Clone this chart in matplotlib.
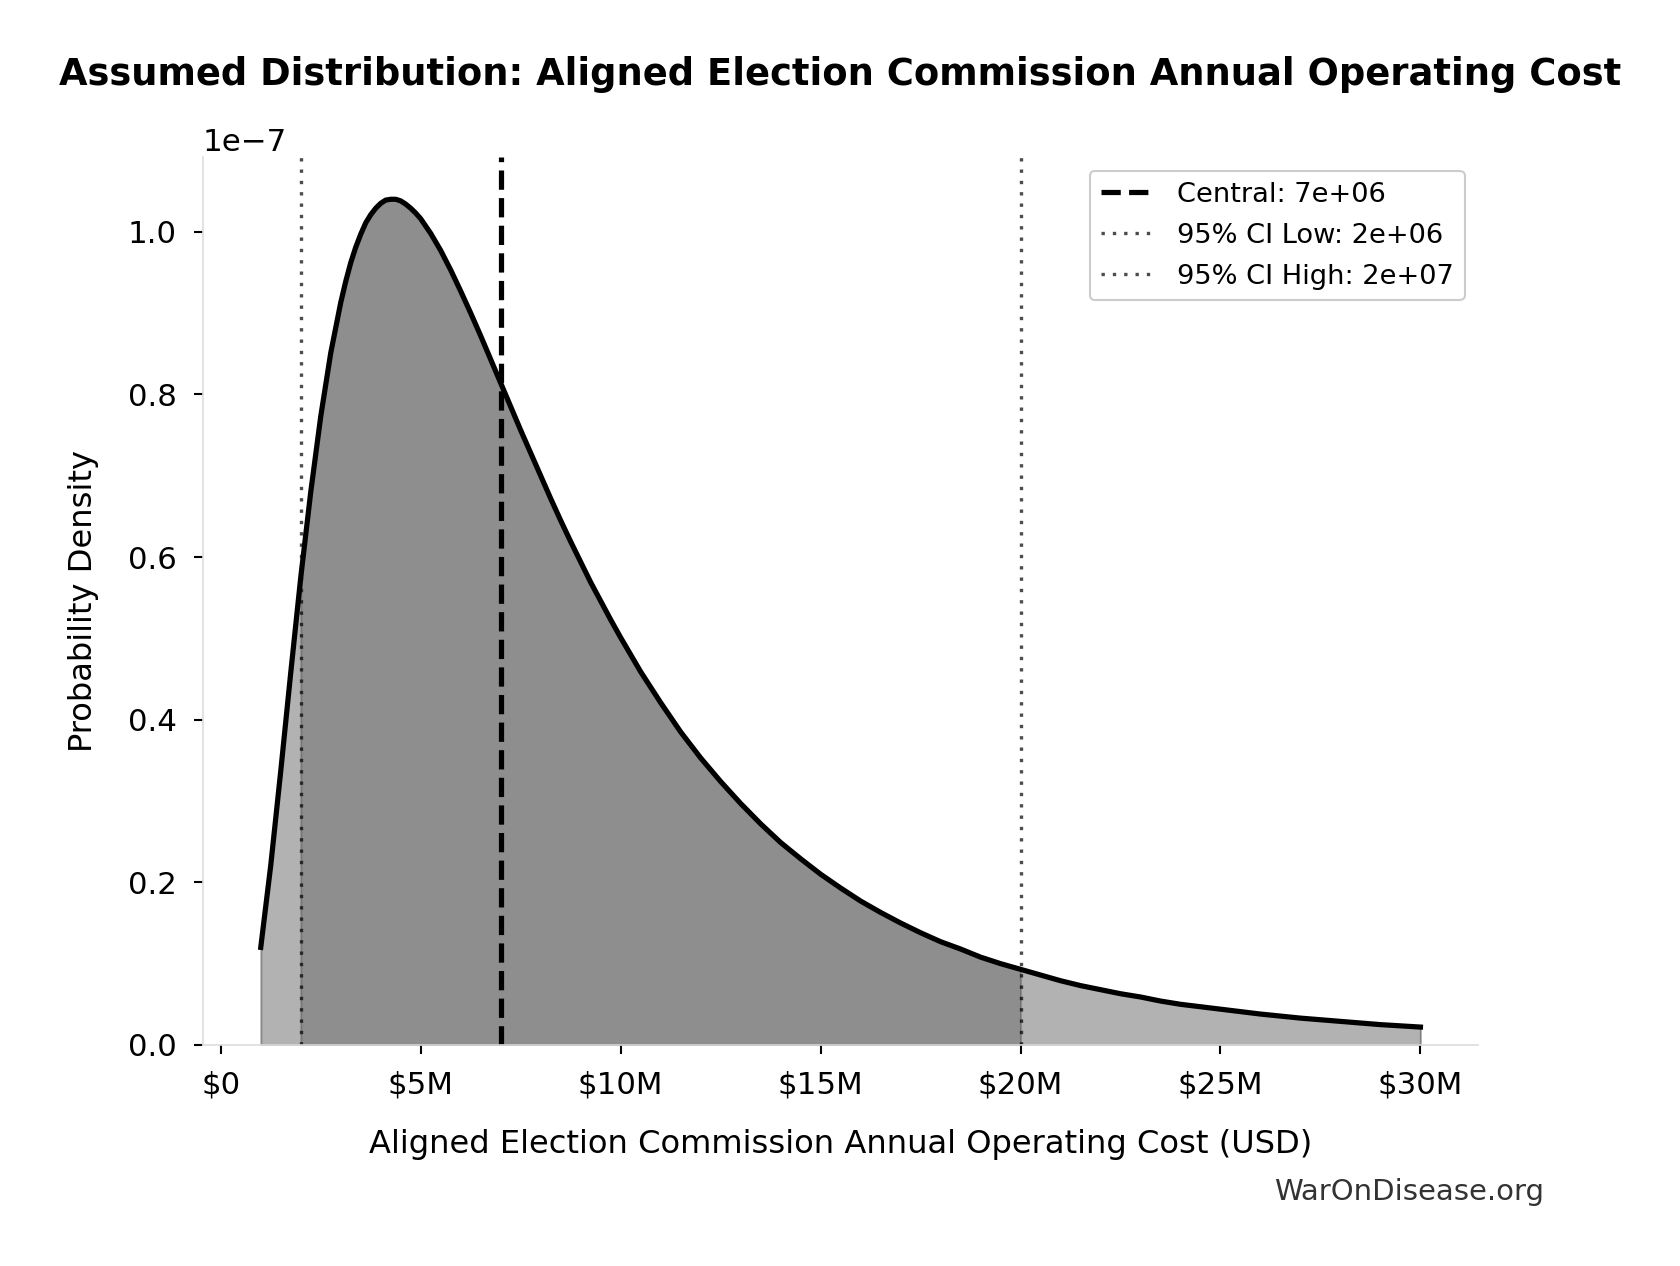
import numpy as np
import matplotlib
matplotlib.use("Agg")
import matplotlib.pyplot as plt
from matplotlib.ticker import FuncFormatter

# density curve (x in $M, y in units of 1e-7)
cost_m = [1.0, 1.25, 1.5, 1.75, 2.0, 2.25, 2.5, 2.75, 3.0, 3.125, 3.25, 3.375,
          3.5, 3.625, 3.75, 3.875, 4.0, 4.125, 4.25, 4.375, 4.5, 4.625, 4.75,
          4.875, 5.0, 5.25, 5.5, 5.75, 6.0, 6.25, 6.5, 6.75, 7.0, 7.25, 7.5,
          7.75, 8.0, 8.25, 8.5, 8.75, 9.0, 9.25, 9.5, 9.75, 10, 10.5, 11, 11.5,
          12, 12.5, 13, 13.5, 14, 14.5, 15, 15.5, 16, 16.5, 17, 17.5, 18,
          18.5, 19, 19.5, 20, 20.5, 21, 21.5, 22, 22.5, 23, 23.5, 24, 24.5,
          25, 26, 27, 28, 29, 30]
density_e7 = [0.120, 0.221, 0.337, 0.458, 0.575, 0.680, 0.773, 0.851, 0.913,
              0.939, 0.962, 0.981, 0.997, 1.011, 1.021, 1.029, 1.035, 1.039,
              1.040, 1.040, 1.038, 1.034, 1.029, 1.023, 1.016, 0.998, 0.977,
              0.953, 0.927, 0.900, 0.872, 0.843, 0.814, 0.785, 0.756, 0.728,
              0.700, 0.672, 0.645, 0.619, 0.594, 0.569, 0.546, 0.523, 0.501,
              0.459, 0.421, 0.385, 0.353, 0.324, 0.297, 0.272, 0.249, 0.229,
              0.210, 0.193, 0.177, 0.163, 0.150, 0.138, 0.127, 0.118, 0.108,
              0.100, 0.093, 0.086, 0.079, 0.073, 0.068, 0.063, 0.059, 0.054,
              0.050, 0.047, 0.044, 0.038, 0.033, 0.029, 0.025, 0.022]

central = 7e6
ci_low = 2e6
ci_high = 2e7

x = np.array(cost_m) * 1e6
y = np.array(density_e7) * 1e-7

fig = plt.figure(figsize=(11.2, 8.44), dpi=150)
ax = fig.add_axes([0.1207, 0.1746, 0.7593, 0.7014])

ax.plot(x, y, color="black", linewidth=2.5)
ax.fill_between(x, y, color="black", alpha=0.3)
inside = (x >= ci_low) & (x <= ci_high)
ax.fill_between(x[inside], y[inside], color="black", alpha=0.2)

ax.axvline(central, color="black", linestyle="--", linewidth=2.5,
           label=f"Central: {central:.0e}")
ax.axvline(ci_low, color="black", alpha=0.7, linestyle=(0, (1, 2.4)),
           linewidth=1.6, label=f"95% CI Low: {ci_low:.0e}")
ax.axvline(ci_high, color="black", alpha=0.7, linestyle=(0, (1, 2.4)),
           linewidth=1.6, label=f"95% CI High: {ci_high:.0e}")

ax.set_ylim(bottom=0)
ax.xaxis.set_major_formatter(FuncFormatter(
    lambda v, p: "$0" if v == 0 else f"${v/1e6:.0f}M"))

ax.set_xlabel("Aligned Election Commission Annual Operating Cost (USD)",
              fontsize=15.4, labelpad=14)
ax.set_ylabel("Probability Density", fontsize=15.4, labelpad=14)
ax.tick_params(labelsize=14.8, length=4.4, width=1, pad=8)
ax.yaxis.get_offset_text().set_fontsize(14.8)

for s in ["top", "right"]:
    ax.spines[s].set_visible(False)
for s in ["left", "bottom"]:
    ax.spines[s].set_color("#dddddd")

ax.legend(loc="upper right", fontsize=13.1, framealpha=1, edgecolor="#cccccc",
          labelspacing=0.55)

fig.text(0.5, 0.941,
         "Assumed Distribution: Aligned Election Commission Annual Operating Cost",
         ha="center", va="center", fontsize=17.7, fontweight="bold")
fig.text(0.919, 0.0585, "WarOnDisease.org", ha="right", va="center",
         fontsize=14, color="#333333")

fig.savefig("out.png", dpi=150)
